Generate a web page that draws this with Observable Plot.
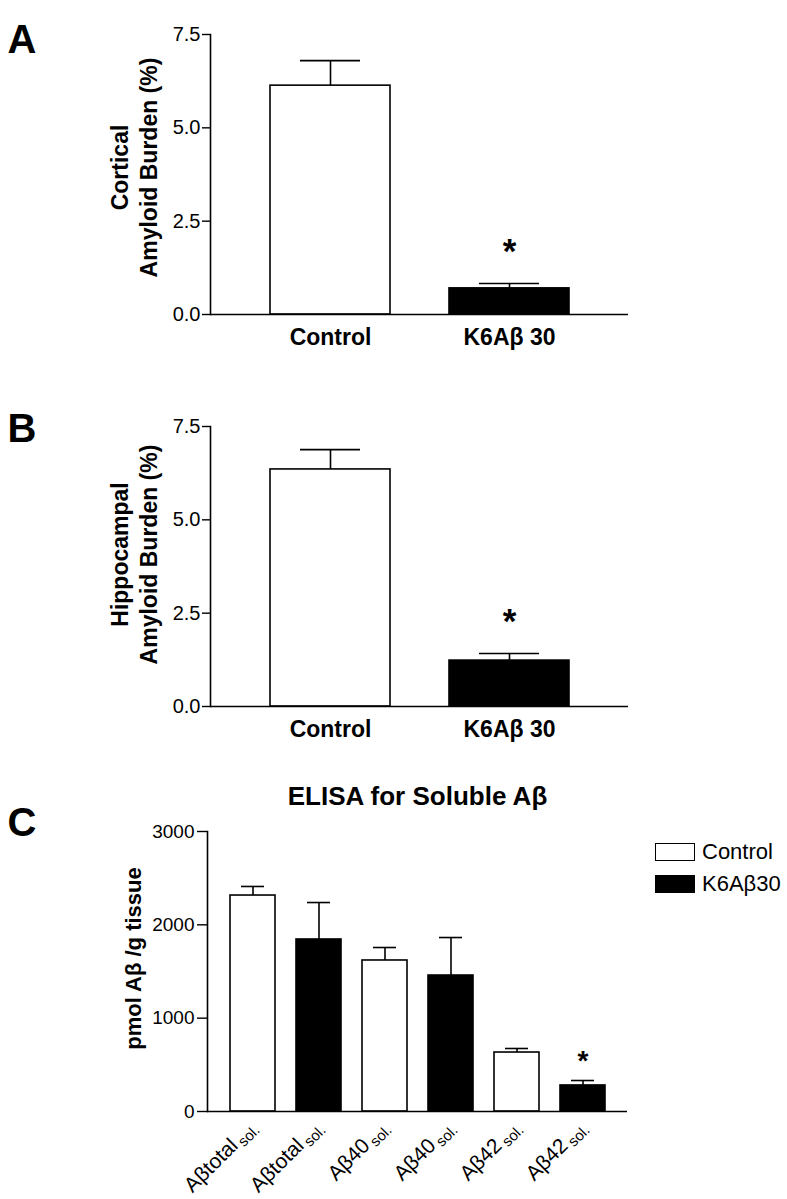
<!DOCTYPE html>
<html>
<head>
<meta charset="utf-8">
<script src="https://cdn.jsdelivr.net/npm/d3@7"></script>
<script src="https://cdn.jsdelivr.net/npm/@observablehq/plot@0.6"></script>
<style>
  body { margin: 0; background: #fff; font-family: "Liberation Sans", Arial, sans-serif; }
  #page { position: relative; width: 787px; height: 1199px; overflow: hidden; background: #fff; }
  .panel { position: absolute; left: 0; }
  .lg { position: absolute; font-size: 22px; line-height: 18px; color: #000; white-space: nowrap; }
  .sw { position: absolute; width: 40px; height: 18px; box-sizing: border-box; border: 1.5px solid #000; }
</style>
</head>
<body>
<div id="page">
  <div class="panel" id="pA" style="top:0"></div>
  <div class="panel" id="pB" style="top:392px"></div>
  <div class="panel" id="pC" style="top:760px"></div>
  <div class="sw" style="left:655px;top:843px;background:#fff"></div>
  <div class="lg" id="lg1" style="left:702px;top:843px"></div>
  <div class="sw" style="left:655px;top:875px;background:#000"></div>
  <div class="lg" id="lg2" style="left:702px;top:875px"></div>
</div>
<script>
// ---------- data ----------
const groupsAB = ["Control", "K6Aβ 30"];
const groupFills = ["white", "black"];
const corticalMean = [6.13, 0.70];
const corticalSEM = [0.67, 0.13];
const corticalSig = [false, true];
const hippoMean = [6.35, 1.23];
const hippoSEM = [0.53, 0.19];
const hippoSig = [false, true];
const yTicksAB = [0, 2.5, 5, 7.5];

const elisaLabels = ["Aβtotal", "Aβtotal", "Aβ40", "Aβ40", "Aβ42", "Aβ42"];
const elisaSuffix = "sol.";
const elisaTreatment = ["Control", "K6Aβ30", "Control", "K6Aβ30", "Control", "K6Aβ30"];
const elisaMean = [2314, 1843, 1618, 1457, 632, 279];
const elisaSEM = [97, 396, 139, 407, 43, 53];
const elisaSig = [false, false, false, false, false, true];
const yTicksC = [0, 1000, 2000, 3000];
const treatments = ["Control", "K6Aβ30"];

const FONT = "Liberation Sans, Arial, Helvetica, sans-serif";

function burdenPanel(letter, ylabel, mean, sem, sig, height, labelDy, letterDy) {
  const data = groupsAB.map((g, i) => ({group: g, mean: mean[i], hi: mean[i] + sem[i], sig: sig[i]}));
  return Plot.plot({
    width: 787, height,
    marginTop: 34, marginBottom: height - 314, marginLeft: 210, marginRight: 787 - 628,
    style: {fontFamily: FONT, color: "black", background: "white", overflow: "visible"},
    x: {domain: groupsAB, paddingInner: 0.33, paddingOuter: 0.33, label: null},
    y: {domain: [0, 7.5], label: null},
    color: {domain: groupsAB, range: groupFills},
    marks: [
      Plot.ruleX(data, {x: "group", y1: "mean", y2: "hi", stroke: "black", strokeWidth: 1.6}),
      Plot.tickY(data, {x: "group", y: "hi", stroke: "black", strokeWidth: 1.6, insetLeft: 30, insetRight: 30}),
      Plot.barY(data, {x: "group", y: "mean", fill: "group", stroke: "black", strokeWidth: 1.6}),
      Plot.text(data.filter(d => d.sig), {x: "group", y: "hi", text: () => "*", fontSize: 35, fontWeight: "bold", dy: -32}),
      Plot.ruleY([0], {stroke: "black", strokeWidth: 1.6}),
      Plot.frame({anchor: "left", stroke: "black", strokeWidth: 1.6}),
      Plot.axisY({ticks: yTicksAB, tickFormat: d3.format(".1f"), tickSize: 8, tickPadding: 2, fontSize: 20, label: null, strokeWidth: 1.4}),
      Plot.axisX({tickSize: 0, tickPadding: 14, fontSize: 23, fontWeight: "bold", label: null}),
      Plot.text([ylabel], {frameAnchor: "left", dx: -77, dy: labelDy, rotate: -90, textAnchor: "middle", fontSize: 23, fontWeight: "bold", lineHeight: 1.27, lineAnchor: "middle"}),
      Plot.text([letter], {frameAnchor: "top-left", dx: -203, dy: letterDy, textAnchor: "start", fontSize: 40, fontWeight: "bold"})
    ]
  });
}

document.getElementById("pA").append(
  burdenPanel("A", "Cortical\nAmyloid Burden (%)", corticalMean, corticalSEM, corticalSig, 392, -7, -10)
);
document.getElementById("pB").append(
  burdenPanel("B", "Hippocampal\nAmyloid Burden (%)", hippoMean, hippoSEM, hippoSig, 368, -12, -13)
);

// ---------- panel C ----------
const elisa = elisaLabels.map((l, i) => ({i, label: l, treat: elisaTreatment[i], mean: elisaMean[i], hi: elisaMean[i] + elisaSEM[i], sig: elisaSig[i]}));
const hC = 439;
const plotC = Plot.plot({
  width: 787, height: hC,
  marginTop: 71, marginBottom: hC - 351, marginLeft: 207, marginRight: 787 - 627,
  style: {fontFamily: FONT, color: "black", background: "white", overflow: "visible"},
  x: {domain: d3.range(elisaLabels.length), paddingInner: 0.32, paddingOuter: 0.32, label: null},
  y: {domain: [0, 3000], label: null},
  color: {domain: treatments, range: groupFills},
  marks: [
    Plot.ruleX(elisa, {x: "i", y1: "mean", y2: "hi", stroke: "black", strokeWidth: 1.6}),
    Plot.tickY(elisa, {x: "i", y: "hi", stroke: "black", strokeWidth: 1.6, insetLeft: 11, insetRight: 11}),
    Plot.barY(elisa, {x: "i", y: "mean", fill: "treat", stroke: "black", strokeWidth: 1.6}),
    Plot.text(elisa.filter(d => d.sig), {x: "i", y: "hi", text: () => "*", fontSize: 28, fontWeight: "bold", dy: -19}),
    Plot.ruleY([0], {stroke: "black", strokeWidth: 1.6}),
    Plot.frame({anchor: "left", stroke: "black", strokeWidth: 1.6}),
    Plot.axisY({ticks: yTicksC, tickFormat: d3.format("d"), tickSize: 10, tickPadding: 3, fontSize: 19, label: null, strokeWidth: 1.4}),
    Plot.axisX({tickSize: 0, tickPadding: 12, tickRotate: -45, fontSize: 21, tickFormat: i => elisaLabels[i], label: null}),
    Plot.text(["pmol Aβ /g tissue"], {frameAnchor: "left", dx: -74, dy: -13, rotate: -90, textAnchor: "middle", fontSize: 22, fontWeight: "bold"}),
    Plot.text(["ELISA for Soluble Aβ"], {frameAnchor: "top", dy: -45, fontSize: 26, fontWeight: "bold"}),
    Plot.text(["C"], {frameAnchor: "top-left", dx: -200, dy: -23.5, textAnchor: "start", fontSize: 40, fontWeight: "bold"})
  ]
});
document.getElementById("pC").append(plotC);

// subscript "sol." on the rotated category labels
plotC.querySelectorAll('[aria-label="x-axis tick label"] text').forEach(t => {
  const ts = document.createElementNS("http://www.w3.org/2000/svg", "tspan");
  ts.setAttribute("font-size", "15");
  ts.setAttribute("dx", "3");
  ts.setAttribute("dy", "4");
  ts.textContent = elisaSuffix;
  t.appendChild(ts);
});

document.getElementById("lg1").textContent = treatments[0];
document.getElementById("lg2").textContent = treatments[1];
</script>
</body>
</html>
